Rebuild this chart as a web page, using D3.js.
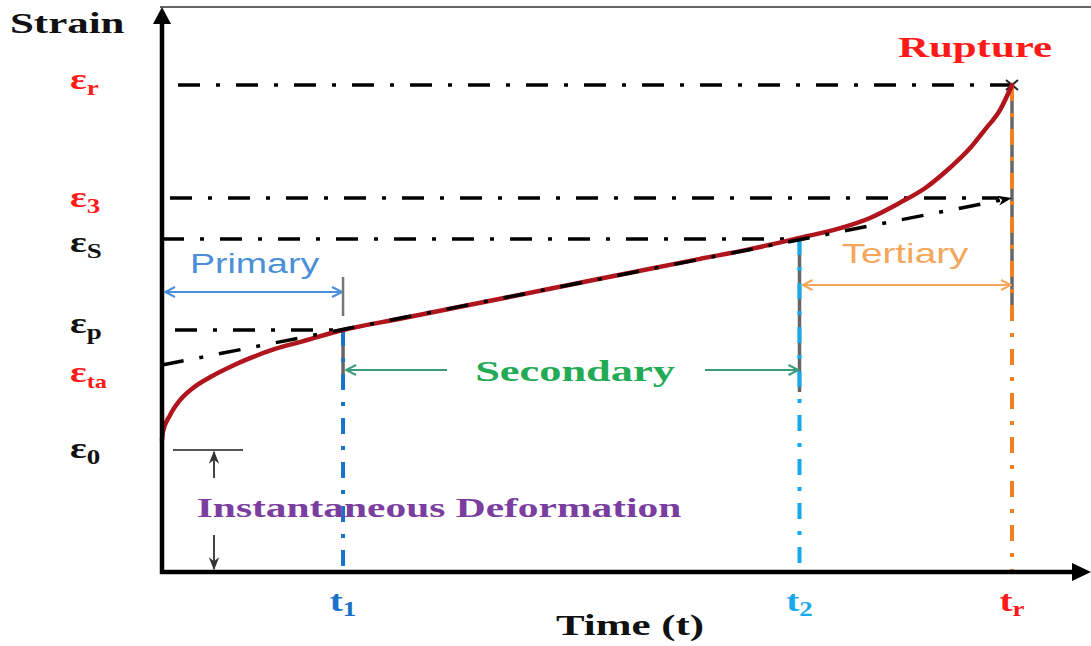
<!DOCTYPE html>
<html>
<head>
<meta charset="utf-8">
<script src="https://cdn.jsdelivr.net/npm/d3@7"></script>
<style>
  html, body { margin: 0; padding: 0; background: #fff; }
  svg { display: block; }
</style>
</head>
<body>
<svg id="chart" width="1091" height="646"></svg>
<script>
// ---- Creep curve data (time and strain in arbitrary units) ----
const strainSymbols = ["r", "3", "S", "p", "ta", "0"];
const strainValues  = [10.0, 7.68, 6.84, 4.97, 4.25, 2.71];

const timeSymbols = ["1", "2", "r"];
const timeValues  = [2.13, 7.5, 10.0];

// creep curve: strain vs time
const curveTime   = [0, 0.01, 0.094, 0.212, 0.365, 0.565, 0.80, 1.035, 1.33, 1.62, 2.13, 2.80, 3.98, 5.15, 6.33, 6.92, 7.50, 7.98, 8.33, 8.68, 8.98, 9.27, 9.51, 9.68, 9.86, 10.0];
const curveStrain = [2.71, 2.87, 3.22, 3.53, 3.78, 4.00, 4.21, 4.39, 4.58, 4.72, 4.97, 5.20, 5.61, 6.02, 6.43, 6.63, 6.86, 7.06, 7.27, 7.58, 7.885, 8.30, 8.71, 9.08, 9.49, 10.0];

// steady-state (secondary) creep line, extended back to the strain axis
const secondaryTime   = [0, 10.0];
const secondaryStrain = [4.25, 7.68];

// stage names
const stageNames = ["Primary", "Secondary", "Tertiary"];

// ---- Scales ----
const svg = d3.select("#chart");
const x = d3.scaleLinear().domain([0, 10]).range([162, 1012]);
const y = d3.scaleLinear().domain([0, 10]).range([572, 85]);

const SERIF = "'Liberation Serif', 'Times New Roman', serif";
const SANS  = "'Liberation Sans', Arial, sans-serif";
const STRETCH = 1.48;      // wide serif lettering
const STRETCH_SANS = 1.34;

const strainColor = { r: "#ff1a1a", "3": "#ff1a1a", S: "#111", p: "#111", ta: "#ff1a1a", "0": "#111" };
const timeColor   = { "1": "#1a72c8", "2": "#18a8ec", r: "#ff1a1a" };
const DASHDOT = "22,16,4,16";

// ---- Markers ----
const defs = svg.append("defs");
function chevron(id, color) {
  defs.append("marker").attr("id", id)
    .attr("viewBox", "0 0 12 12").attr("refX", 11).attr("refY", 6)
    .attr("markerWidth", 12).attr("markerHeight", 12)
    .attr("markerUnits", "userSpaceOnUse")
    .attr("orient", "auto-start-reverse")
    .append("path").attr("d", "M1,1 L11,6 L1,11")
    .attr("fill", "none").attr("stroke", color).attr("stroke-width", 2);
}
chevron("chevBlue", "#4a8fd8");
chevron("chevGreen", "#3a9a7a");
chevron("chevOrange", "#f5a65b");
defs.append("marker").attr("id", "solidHead")
  .attr("viewBox", "0 0 14 10").attr("refX", 14).attr("refY", 5)
  .attr("markerWidth", 14).attr("markerHeight", 10)
  .attr("markerUnits", "userSpaceOnUse")
  .attr("orient", "auto")
  .append("path").attr("d", "M0,0 L14,5 L0,10 L4,5 Z").attr("fill", "#000");
defs.append("marker").attr("id", "smallHead")
  .attr("viewBox", "0 0 10 10").attr("refX", 9).attr("refY", 5)
  .attr("markerWidth", 13).attr("markerHeight", 13)
  .attr("markerUnits", "userSpaceOnUse")
  .attr("orient", "auto-start-reverse")
  .append("path").attr("d", "M0,1 L10,5 L0,9 L3,5 Z").attr("fill", "#333");

// ---- Text helper: symbol with optional subscript ----
function label(parent, px, py, main, sub, opts) {
  const t = parent.append("text")
    .attr("transform", `translate(${px},${py}) scale(${opts.stretch || STRETCH},1)`)
    .attr("font-family", opts.family || SERIF)
    .attr("font-weight", opts.weight || "bold")
    .attr("font-size", opts.size)
    .attr("fill", opts.color)
    .attr("text-anchor", opts.anchor || "start");
  t.append("tspan").text(main);
  if (sub) {
    t.append("tspan").attr("font-size", opts.subSize || opts.size * 0.68)
      .attr("dy", opts.subDy || 7).text(sub);
  }
  return t;
}

const g = svg.append("g");

// frame line along the top
g.append("line").attr("x1", x(0) - 2).attr("x2", 1091).attr("y1", 7).attr("y2", 7)
  .attr("stroke", "#666").attr("stroke-width", 2);

// ---- Horizontal strain reference lines (dash-dot) ----
const refLines = [
  { v: strainValues[0], t0: x.invert(178), t1: x.invert(1020) },
  { v: strainValues[1], t0: x.invert(170), t1: timeValues[2] - 0.15 },
  { v: strainValues[2], t0: 0, t1: timeValues[1] },
  { v: strainValues[3], t0: x.invert(175), t1: timeValues[0] }
];
g.selectAll(".ref").data(refLines).enter().append("line")
  .attr("x1", d => x(d.t0)).attr("x2", d => x(d.t1))
  .attr("y1", d => y(d.v)).attr("y2", d => y(d.v))
  .attr("stroke", "#000").attr("stroke-width", 3.5)
  .attr("stroke-dasharray", DASHDOT);

// rupture cross marker
const rx = x(timeValues[2]), ry = y(strainValues[0]);
g.append("path").attr("d", `M${rx - 6},${ry - 5} L${rx + 6},${ry + 5} M${rx - 6},${ry + 5} L${rx + 6},${ry - 5}`)
  .attr("stroke", "#222").attr("stroke-width", 2);

// ---- Vertical time lines ----
const timeTops = [strainValues[3], strainValues[2], strainValues[0]];
const greyEnds = [380, 392, 312];  // extent of the grey under-stroke
timeValues.forEach((t, i) => {
  g.append("line").attr("x1", x(t)).attr("x2", x(t))
    .attr("y1", y(timeTops[i])).attr("y2", greyEnds[i])
    .attr("stroke", "#666").attr("stroke-width", 3.5);
  g.append("line").attr("x1", x(t)).attr("x2", x(t))
    .attr("y1", y(timeTops[i])).attr("y2", y(0))
    .attr("stroke", [timeColor["1"], timeColor["2"], "#f08020"][i])
    .attr("stroke-width", 4)
    .attr("stroke-dasharray", "16,12,4,12");
});

// ---- Creep curve ----
const curveData = curveTime.map((t, i) => [t, curveStrain[i]]);
const line = d3.line().x(d => x(d[0])).y(d => y(d[1])).curve(d3.curveMonotoneX);
g.append("path").datum(curveData).attr("d", line)
  .attr("fill", "none").attr("stroke", "#b0141c").attr("stroke-width", 4.5)
  .attr("stroke-linecap", "round");

// ---- Secondary (steady-state) line ----
const secData = secondaryTime.map((t, i) => [t, secondaryStrain[i]]);
g.append("path").datum(secData)
  .attr("d", d3.line().x(d => x(d[0])).y(d => y(d[1])))
  .attr("fill", "none").attr("stroke", "#000").attr("stroke-width", 3.5)
  .attr("stroke-dasharray", DASHDOT)
  .attr("marker-end", "url(#solidHead)");

// ---- Axes ----
g.append("line").attr("x1", x(0)).attr("x2", x(0)).attr("y1", y(0) + 2).attr("y2", 22)
  .attr("stroke", "#000").attr("stroke-width", 4.5);
g.append("path").attr("d", `M${x(0)},7 L${x(0) - 9},24 L${x(0) + 9},24 Z`).attr("fill", "#000");
g.append("line").attr("x1", x(0) - 2).attr("x2", 1074).attr("y1", y(0)).attr("y2", y(0))
  .attr("stroke", "#000").attr("stroke-width", 4.5);
g.append("path").attr("d", `M1091,${y(0)} L1072,${y(0) - 9} L1072,${y(0) + 9} Z`).attr("fill", "#000");

// ---- Stage arrows ----
const pY = 292;
g.append("line").attr("x1", x(0) + 3).attr("x2", x(timeValues[0]) - 1).attr("y1", pY).attr("y2", pY)
  .attr("stroke", "#4a8fd8").attr("stroke-width", 2)
  .attr("marker-start", "url(#chevBlue)").attr("marker-end", "url(#chevBlue)");
g.append("line").attr("x1", x(timeValues[0])).attr("x2", x(timeValues[0])).attr("y1", 277).attr("y2", 316)
  .attr("stroke", "#777").attr("stroke-width", 2.5);
label(g, 190, 273, stageNames[0], null, { family: SANS, weight: "normal", size: 28, color: "#4a8fd8", stretch: STRETCH_SANS });

const sY = 370;
g.append("line").attr("x1", x(timeValues[0]) + 3).attr("x2", 447).attr("y1", sY).attr("y2", sY)
  .attr("stroke", "#3a9a7a").attr("stroke-width", 2).attr("marker-start", "url(#chevGreen)");
g.append("line").attr("x1", 705).attr("x2", x(timeValues[1]) - 1).attr("y1", sY).attr("y2", sY)
  .attr("stroke", "#3a9a7a").attr("stroke-width", 2).attr("marker-end", "url(#chevGreen)");
label(g, 575, 381, stageNames[1], null, { size: 30, color: "#22aa55", anchor: "middle" });

const tY = 285;
g.append("line").attr("x1", x(timeValues[1]) + 3).attr("x2", x(timeValues[2]) - 1).attr("y1", tY).attr("y2", tY)
  .attr("stroke", "#f5a65b").attr("stroke-width", 2)
  .attr("marker-start", "url(#chevOrange)").attr("marker-end", "url(#chevOrange)");
label(g, 905, 263, stageNames[2], null, { family: SANS, weight: "normal", size: 28, color: "#f5a65b", anchor: "middle", stretch: STRETCH_SANS + 0.04 });

// ---- Instantaneous deformation marker ----
g.append("line").attr("x1", 173).attr("x2", 243).attr("y1", 450).attr("y2", 450)
  .attr("stroke", "#555").attr("stroke-width", 2);
g.append("line").attr("x1", 214).attr("x2", 214).attr("y1", 478).attr("y2", 452)
  .attr("stroke", "#444").attr("stroke-width", 2).attr("marker-end", "url(#smallHead)");
g.append("line").attr("x1", 214).attr("x2", 214).attr("y1", 535).attr("y2", 569)
  .attr("stroke", "#444").attr("stroke-width", 2).attr("marker-end", "url(#smallHead)");
label(g, 439, 517, "Instantaneous Deformation", null, { size: 28, color: "#7a3da0", anchor: "middle" });

// ---- Strain labels ----
const strainNudge = [4, 9, 13, 3, 17, 18];
strainSymbols.forEach((s, i) => {
  label(g, 70, y(strainValues[i]) + strainNudge[i], "ε", s,
    { size: 29, subSize: s === "ta" ? 18 : 20, subDy: 6, color: strainColor[s], stretch: 1.35 });
});

// ---- Time labels ----
timeSymbols.forEach((s, i) => {
  label(g, x(timeValues[i]), 611, "t", s,
    { size: 29, subSize: 20, subDy: 5, color: timeColor[s], anchor: "middle", stretch: 1.35 });
});

// ---- Titles ----
label(g, 10, 33, "Strain", null, { size: 29, color: "#111" });
label(g, 630, 635, "Time (t)", null, { size: 29, color: "#111", anchor: "middle" });
label(g, 975, 57, "Rupture", null, { size: 29, color: "#ff1a1a", anchor: "middle" });
</script>
</body>
</html>
